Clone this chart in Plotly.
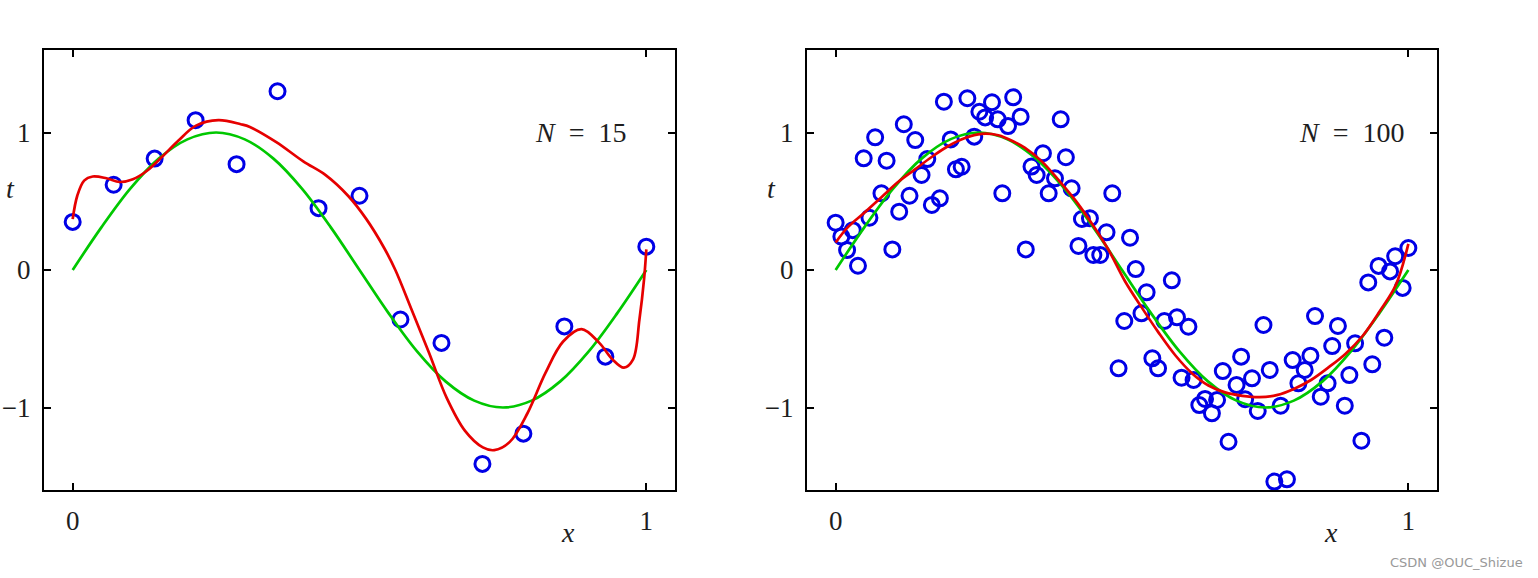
import plotly.graph_objects as go
from plotly.subplots import make_subplots

# ---- Left panel data (N = 15) ----
x15 = [0.0, 0.0714, 0.1429, 0.2143, 0.2857, 0.3571, 0.4286, 0.5, 0.5714, 0.6429,
       0.7143, 0.7857, 0.8571, 0.9286, 1.0]
t15 = [0.35, 0.62, 0.81, 1.09, 0.77, 1.30, 0.45, 0.54, -0.36, -0.53,
       -1.41, -1.19, -0.41, -0.63, 0.17]

# true curve (green)
xg = [0.0, 0.05, 0.1, 0.15, 0.2, 0.25, 0.3, 0.35, 0.4, 0.45, 0.5,
      0.55, 0.6, 0.65, 0.7, 0.75, 0.8, 0.85, 0.9, 0.95, 1.0]
tg = [0.0, 0.31, 0.59, 0.81, 0.95, 1.0, 0.95, 0.81, 0.59, 0.31, 0.0,
      -0.31, -0.59, -0.81, -0.95, -1.0, -0.95, -0.81, -0.59, -0.31, 0.0]

# fitted curve (red), left panel
xr15 = [0.0, 0.008, 0.02, 0.035, 0.059, 0.082, 0.105, 0.129, 0.155, 0.184, 0.215,
        0.254, 0.293, 0.309, 0.355, 0.402, 0.441, 0.48, 0.512, 0.543, 0.5625, 0.59,
        0.621, 0.652, 0.684, 0.715, 0.735, 0.762, 0.793, 0.824, 0.855, 0.887, 0.918,
        0.941, 0.961, 0.977, 0.988, 0.996, 1.0]
tr15 = [0.37, 0.54, 0.65, 0.68, 0.667, 0.64, 0.66, 0.72, 0.82, 0.94, 1.05,
        1.09, 1.06, 1.04, 0.93, 0.79, 0.69, 0.54, 0.37, 0.16, 0.0, -0.28,
        -0.60, -0.93, -1.17, -1.29, -1.31, -1.25, -1.04, -0.75, -0.52, -0.43, -0.53,
        -0.65, -0.71, -0.65, -0.36, -0.07, 0.15]

# ---- Right panel data (N = 100) ----
x100 = [0.0, 0.01, 0.03, 0.02, 0.039, 0.059, 0.049, 0.069, 0.08, 0.089,
        0.099, 0.111, 0.119, 0.129, 0.139, 0.15, 0.16, 0.168, 0.182, 0.189,
        0.201, 0.21, 0.22, 0.23, 0.242, 0.251, 0.261, 0.273, 0.283, 0.301,
        0.291, 0.31, 0.323, 0.332, 0.342, 0.351, 0.362, 0.372, 0.383, 0.393,
        0.402, 0.412, 0.424, 0.43, 0.444, 0.45, 0.462, 0.473, 0.483, 0.514,
        0.524, 0.543, 0.504, 0.534, 0.574, 0.596, 0.616, 0.553, 0.563, 0.494,
        0.587, 0.604, 0.625, 0.676, 0.645, 0.635, 0.666, 0.657, 0.686, 0.708,
        0.70, 0.715, 0.727, 0.737, 0.747, 0.758, 0.777, 0.766, 0.788, 0.798,
        0.808, 0.819, 0.829, 0.837, 0.847, 0.859, 0.867, 0.877, 0.889, 0.897,
        0.907, 0.918, 0.937, 0.958, 0.93, 0.948, 0.968, 0.977, 0.99, 1.0]
t100 = [0.344, 0.243, 0.29, 0.145, 0.031, 0.38, 0.812, 0.965, 0.558, 0.795,
        0.15, 0.424, 1.06, 0.54, 0.945, 0.691, 0.807, 0.473, 0.521, 1.224,
        0.95, 0.732, 0.751, 1.249, 0.97, 1.151, 1.11, 1.22, 1.096, 1.047,
        0.558, 1.256, 1.115, 0.15, 0.752, 0.691, 0.849, 0.558, 0.667, 1.096,
        0.82, 0.594, 0.175, 0.371, 0.376, 0.109, 0.109, 0.274, 0.558, 0.235,
        0.007, -0.162, -0.371, -0.315, -0.371, -0.344, -0.412, -0.642, -0.715, -0.715,
        -0.075, -0.783, -0.80, -0.735, -0.938, -0.982, -0.945, -1.042, -1.249, -0.63,
        -0.836, -0.94, -0.788, -1.025, -0.40, -0.727, -0.987, -1.539, -1.522, -0.655,
        -0.824, -0.727, -0.623, -0.335, -0.921, -0.824, -0.553, -0.407, -0.987, -0.764,
        -0.533, -1.241, -0.686, -0.492, -0.09, 0.03, -0.01, 0.10, -0.13, 0.16]

# fitted curve (red), right panel
xr100 = [0.0, 0.021, 0.051, 0.08, 0.109, 0.138, 0.167, 0.196, 0.226, 0.255,
         0.284, 0.313, 0.33, 0.36, 0.389, 0.418, 0.447, 0.476, 0.505, 0.534,
         0.563, 0.593, 0.622, 0.651, 0.68, 0.71, 0.74, 0.77, 0.8, 0.83,
         0.86, 0.89, 0.92, 0.95, 0.978, 1.0]
tr100 = [0.2, 0.31, 0.42, 0.53, 0.64, 0.73, 0.82, 0.90, 0.96, 0.99,
         0.98, 0.93, 0.89, 0.79, 0.655, 0.51, 0.34, 0.15, -0.08, -0.27,
         -0.45, -0.62, -0.75, -0.84, -0.89, -0.915, -0.925, -0.91, -0.865, -0.80,
         -0.71, -0.61, -0.48, -0.30, -0.11, 0.19]

panel_labels = ["<i>N</i>&nbsp;&nbsp;=&nbsp;&nbsp;15", "<i>N</i>&nbsp;&nbsp;=&nbsp;&nbsp;100"]
x_ticks = [0, 1]
y_ticks = [-1, 0, 1]

BLUE = "#0000e6"
GREEN = "#00c800"
RED = "#e60000"
FONT = "Liberation Serif, DejaVu Serif, serif"
TXT = "#1e1e1e"

fig = make_subplots(rows=1, cols=2)

panels = [(x15, t15, xr15, tr15), (x100, t100, xr100, tr100)]
for i, (xs, ts, xr, tr) in enumerate(panels, start=1):
    fig.add_trace(go.Scatter(x=xs, y=ts, mode="markers",
                             marker=dict(symbol="circle-open", size=15, color=BLUE,
                                         line=dict(width=3, color=BLUE)),
                             showlegend=False, hoverinfo="skip"), row=1, col=i)
    fig.add_trace(go.Scatter(x=xg, y=tg, mode="lines",
                             line=dict(color=GREEN, width=2.7, shape="spline"),
                             showlegend=False), row=1, col=i)
    fig.add_trace(go.Scatter(x=xr, y=tr, mode="lines",
                             line=dict(color=RED, width=2.7, shape="spline", smoothing=1.0),
                             showlegend=False), row=1, col=i)

W, H = 1538, 578
domains = [(44 / W, 675 / W), (807 / W, 1437 / W)]
axis_common = dict(showgrid=False, zeroline=False, showline=True, linecolor="black",
                   linewidth=2, mirror="ticks", ticks="inside", ticklen=7, tickwidth=2,
                   tickcolor="black", tickfont=dict(family=FONT, size=27, color=TXT))
for i, dom in enumerate(domains, start=1):
    sfx = "" if i == 1 else str(i)
    fig.layout["xaxis" + sfx].update(domain=list(dom), range=[-0.05, 1.05],
                                     tickvals=x_ticks, ticklabelstandoff=6, **axis_common)
    fig.layout["yaxis" + sfx].update(domain=[1 - 490 / H, 1 - 50 / H], range=[-1.6, 1.6],
                                     tickvals=y_ticks, ticklabelstandoff=6, **axis_common)

annos = []
label_pos = [(0.9685, "x", "y"), (0.995, "x2", "y2")]
for txt, (xa, xr_, yr_) in zip(panel_labels, label_pos):
    annos.append(dict(text=txt, x=xa, y=1.0, xref=xr_, yref=yr_, xanchor="right",
                      yanchor="middle", showarrow=False,
                      font=dict(family=FONT, size=28, color=TXT)))
for px in (10, 771):
    annos.append(dict(text="<i>t</i>", x=px / W, y=1 - 188 / H, xref="paper", yref="paper",
                      xanchor="center", yanchor="middle", showarrow=False,
                      font=dict(family=FONT, size=28, color=TXT)))
for px in (568, 1331):
    annos.append(dict(text="<i>x</i>", x=px / W, y=1 - 532 / H, xref="paper", yref="paper",
                      xanchor="center", yanchor="middle", showarrow=False,
                      font=dict(family=FONT, size=28, color=TXT)))
annos.append(dict(text="CSDN @OUC_Shizue", x=1525 / W, y=1 - 562 / H, xref="paper",
                  yref="paper", xanchor="right", yanchor="middle", showarrow=False,
                  font=dict(family="DejaVu Sans", size=13, color="#999")))

fig.update_layout(width=W, height=H, margin=dict(l=0, r=0, t=0, b=0),
                  paper_bgcolor="white", plot_bgcolor="white", annotations=annos)

fig.write_html("out.html")
